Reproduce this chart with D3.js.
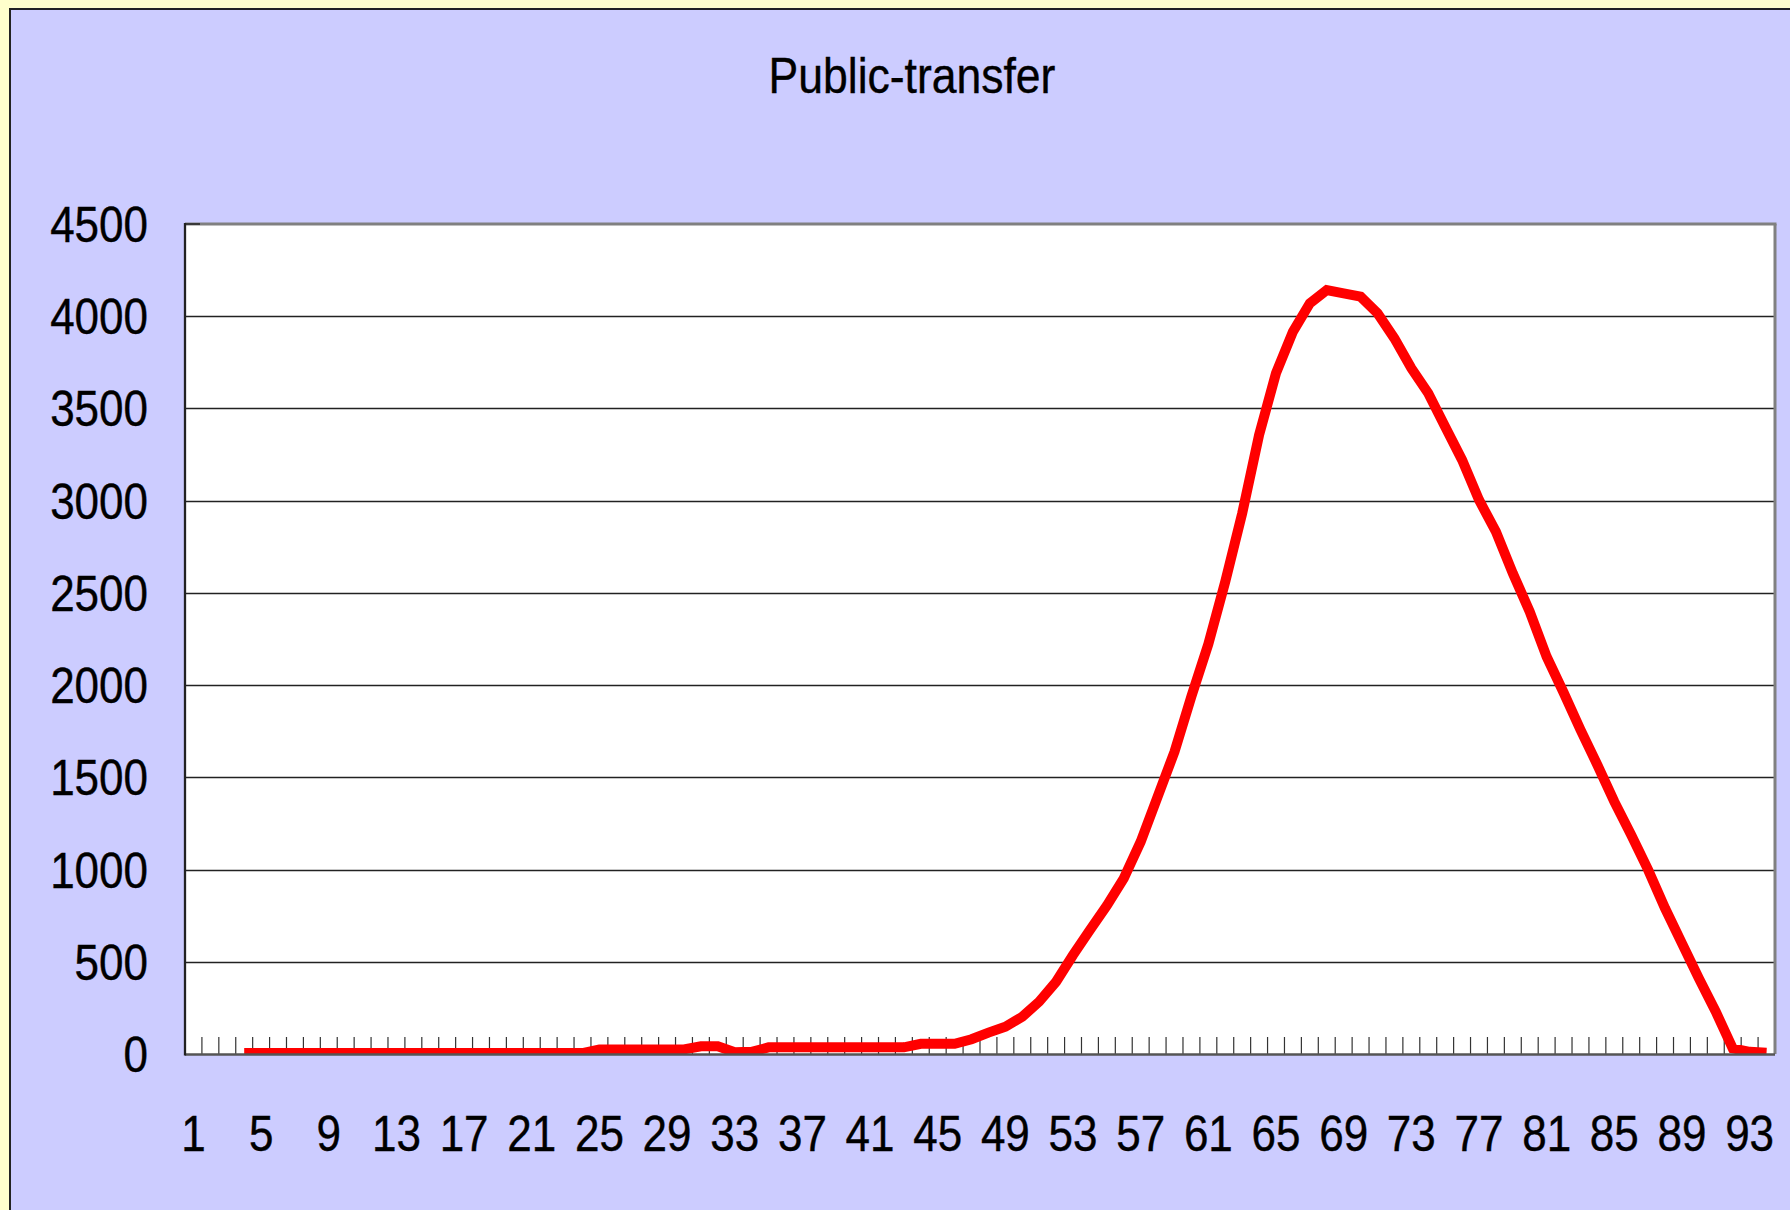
<!DOCTYPE html>
<html>
<head>
<meta charset="utf-8">
<script src="https://cdn.jsdelivr.net/npm/d3@7"></script>
<style>
  html, body { margin: 0; padding: 0; background: #FFFFCC; }
  svg { display: block; }
  text { font-family: "Liberation Sans", Arial, sans-serif; fill: #000; stroke: #000; stroke-width: 0.4px; }
</style>
</head>
<body>
<svg id="chart" width="1790" height="1210"></svg>
<script>
// chart data
const chartTitle = "Public-transfer";
const categories = d3.range(1, 95);            // 1 .. 94
const xLabels = d3.range(1, 95, 4);             // 1, 5, 9, ... 93
const yTicks = [0, 500, 1000, 1500, 2000, 2500, 3000, 3500, 4000, 4500];
const values = [
  null, null, null, 5, 5, 5, 5, 5, 5, 5,            // 1-10
  5, 5, 5, 5, 5, 5, 5, 5, 5, 5,                     // 11-20
  5, 5, 5, 5, 25, 25, 25, 25, 25, 25,               // 21-30
  42, 42, 10, 12, 36, 36, 36, 36, 36, 36,           // 31-40
  36, 36, 36, 55, 55, 55, 80, 116, 148, 202,        // 41-50
  284, 392, 537, 672, 805, 952, 1151, 1395, 1639, 1940,   // 51-60
  2222, 2561, 2931, 3356, 3691, 3916, 4070, 4142, 4124, 4106, // 61-70
  4016, 3880, 3718, 3582, 3401, 3221, 3004, 2832, 2606, 2398, // 71-80
  2154, 1960, 1758, 1567, 1368, 1187, 998, 790, 600, 410,     // 81-90
  229, 31, 12, 7                                               // 91-94
];

const W = 1790, H = 1210;
const plot = { left: 185, right: 1775, top: 224, bottom: 1054 };
const squeeze = 0.88;   // text in the original is horizontally narrowed

const svg = d3.select("#chart");

// chart area
svg.append("rect")
    .attr("x", 10).attr("y", 9)
    .attr("width", W + 20).attr("height", H + 20)
    .attr("fill", "#CCCCFF")
    .attr("stroke", "#222")
    .attr("stroke-width", 2);

// title
svg.append("text")
    .attr("transform", `translate(912,93) scale(0.89,1)`)
    .attr("text-anchor", "middle")
    .style("font-size", "50px")
    .text(chartTitle);

const x = d3.scaleBand()
    .domain(categories)
    .range([plot.left, plot.right])
    .padding(0);

const y = d3.scaleLinear()
    .domain([0, 4500])
    .range([plot.bottom, plot.top]);

// plot area
svg.append("rect")
    .attr("x", plot.left).attr("y", plot.top)
    .attr("width", plot.right - plot.left)
    .attr("height", plot.bottom - plot.top)
    .attr("fill", "#fff");

svg.append("clipPath").attr("id", "plotClip")
  .append("rect")
    .attr("x", plot.left).attr("y", plot.top - 10)
    .attr("width", plot.right - plot.left)
    .attr("height", plot.bottom - plot.top + 10);

// gridlines
svg.append("g")
    .selectAll("line")
    .data(yTicks.filter(d => d > 0 && d < 4500))
    .join("line")
    .attr("x1", plot.left).attr("x2", plot.right)
    .attr("y1", d => Math.round(y(d)) + 0.5)
    .attr("y2", d => Math.round(y(d)) + 0.5)
    .attr("stroke", "#222")
    .attr("stroke-width", 1.4);

// category tick marks (inside, at band boundaries)
const boundaries = categories.map(c => x(c)).concat([plot.right]);
svg.append("g")
    .selectAll("line")
    .data(boundaries)
    .join("line")
    .attr("x1", d => d).attr("x2", d => d)
    .attr("y1", plot.bottom - 17).attr("y2", plot.bottom)
    .attr("stroke", "#333")
    .attr("stroke-width", 1.2);

// frame: top and right grey, left and bottom dark
svg.append("line")
    .attr("x1", plot.left).attr("x2", plot.right + 1.5)
    .attr("y1", plot.top).attr("y2", plot.top)
    .attr("stroke", "#808080").attr("stroke-width", 3);
svg.append("line")
    .attr("x1", plot.right).attr("x2", plot.right)
    .attr("y1", plot.top).attr("y2", plot.bottom)
    .attr("stroke", "#808080").attr("stroke-width", 3);

// series line
const line = d3.line()
    .defined(d => d != null)
    .x((d, i) => x(categories[i]) + x.bandwidth() / 2)
    .y(d => y(d));

svg.append("path")
    .datum(values)
    .attr("clip-path", "url(#plotClip)")
    .attr("fill", "none")
    .attr("stroke", "#FF0000")
    .attr("stroke-width", 10)
    .attr("stroke-linejoin", "miter")
    .attr("d", line);

// axes lines
svg.append("line")
    .attr("x1", plot.left).attr("x2", plot.right)
    .attr("y1", plot.bottom + 0.5).attr("y2", plot.bottom + 0.5)
    .attr("stroke", "#555").attr("stroke-width", 2.3);
svg.append("line")
    .attr("x1", plot.left).attr("x2", plot.left)
    .attr("y1", plot.top - 1).attr("y2", plot.bottom + 1.5)
    .attr("stroke", "#222").attr("stroke-width", 2.3);
// small inside tick at the top of the value axis
svg.append("line")
    .attr("x1", plot.left).attr("x2", plot.left + 15)
    .attr("y1", plot.top).attr("y2", plot.top)
    .attr("stroke", "#222").attr("stroke-width", 1.5);

// y labels
svg.append("g")
    .selectAll("text")
    .data(yTicks)
    .join("text")
    .attr("transform", d => `translate(148,${y(d)}) scale(${squeeze},1)`)
    .attr("dy", "0.36em")
    .attr("text-anchor", "end")
    .style("font-size", "50px")
    .text(d => d);

// x labels
svg.append("g")
    .selectAll("text")
    .data(xLabels)
    .join("text")
    .attr("transform", d => `translate(${x(d) + x.bandwidth() / 2},1151) scale(${squeeze},1)`)
    .attr("text-anchor", "middle")
    .style("font-size", "50px")
    .text(d => d);
</script>
</body>
</html>
